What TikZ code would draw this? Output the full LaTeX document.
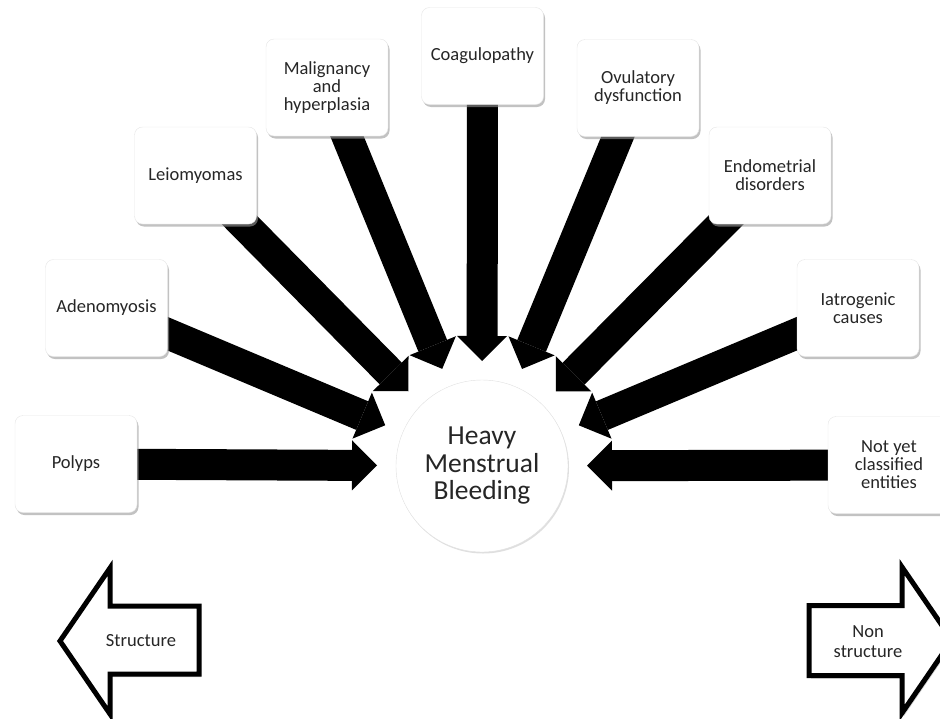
\documentclass[tikz,border=0pt]{standalone}
\usepackage{fontspec}
\setmainfont{Carlito}
\usetikzlibrary{arrows.meta,shadows,backgrounds,calc}

\tikzset{
  cause/.style={draw=black!10, fill=white, rounded corners=8pt,
    minimum width=122pt, minimum height=97pt, inner sep=2pt, align=center,
    text=black!85, font=\fontsize{18.5}{18}\selectfont,
    drop shadow={shadow xshift=1.5pt, shadow yshift=-2.5pt, fill=black!40, opacity=.6}},
  hub/.style={circle, draw=black!12, fill=white, minimum size=172pt, align=center,
    text=black!85, font=\fontsize{27.5}{27.5}\selectfont,
    drop shadow={shadow xshift=1pt, shadow yshift=-1.5pt, fill=black!25, opacity=.5}},
  push/.style={line width=31pt, -{Triangle[length=25pt,width=50pt,line width=0pt]}},
  side/.style={line width=5pt, miter limit=10, fill=white,
    drop shadow={shadow xshift=2pt, shadow yshift=-3pt, fill=black!30, opacity=.6}},
  sidetext/.style={align=center, text=black!85, font=\fontsize{18.5}{20}\selectfont},
}

\begin{document}
\begin{tikzpicture}[x=1pt,y=-1pt]
   \useasboundingbox (0,0) rectangle (940,718);

   \node[hub]   (hmb)   at (482,466) {Heavy\\Menstrual\\Bleeding};

   \node[cause] (polyps) at ( 76,464)   {Polyps};
   \node[cause] (adeno)  at (106.5,308) {Adenomyosis};
   \node[cause] (leio)   at (195.5,175.5) {Leiomyomas};
   \node[cause] (malig)  at (327,87.5)  {Malignancy\\and\\hyperplasia};
   \node[cause] (coag)   at (482.5,56)  {Coagulopathy};
   \node[cause] (ovul)   at (638,88)    {Ovulatory\\dysfunction};
   \node[cause] (endo)   at (770,175.5) {Endometrial\\disorders};
   \node[cause] (iatro)  at (858,308)   {Iatrogenic\\causes};
   \node[cause] (notyet) at (889,465)   {Not yet\\classified\\entities};

   \begin{scope}[on background layer]
     \foreach \src in {polyps,adeno,leio,malig,coag,ovul,endo,iatro,notyet}
       \draw[push] (\src.center) -- ($(hmb.center)!105pt!(\src.center)$);
   \end{scope}

   % structure / non structure
   \draw[side] (60,641) -- (110,568) -- (110,606) -- (199,606) -- (199,674)
               -- (110,674) -- (110,714) -- cycle;
   \draw[side] (952,640) -- (902,567) -- (902,605.5) -- (809,605.5) -- (809,675.5)
               -- (902,675.5) -- (902,713) -- cycle;
   \node[sidetext] (struct)    at (141,641) {Structure};
   \node[sidetext] (nonstruct) at (868,642) {Non\\structure};
\end{tikzpicture}
\end{document}
